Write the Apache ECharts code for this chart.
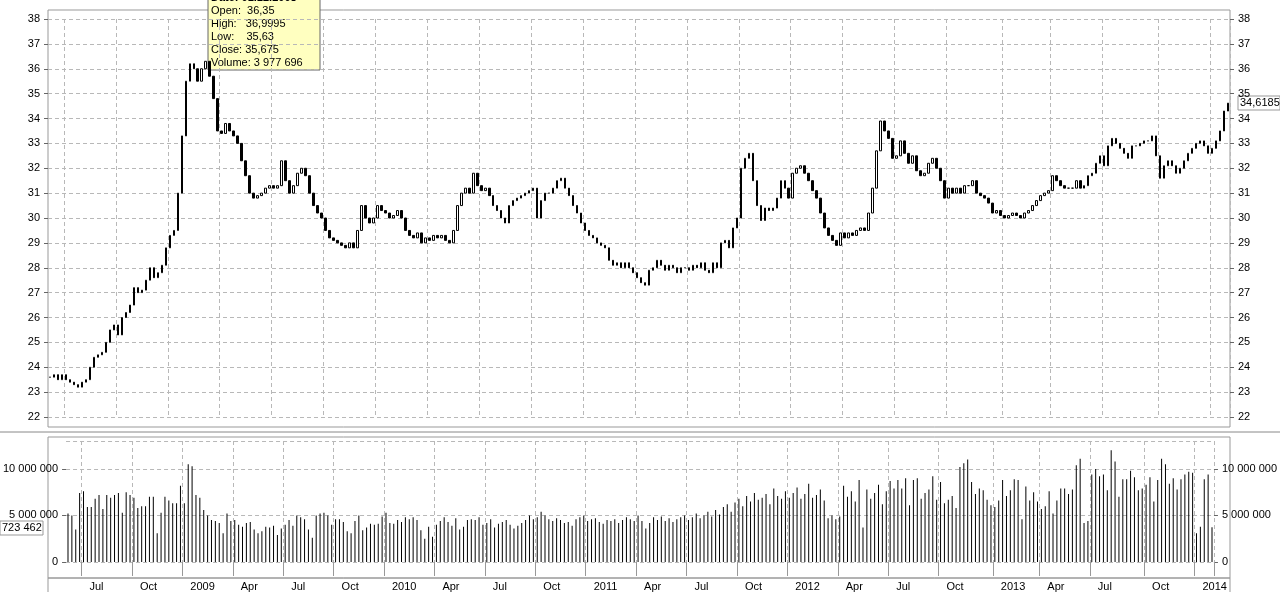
<!DOCTYPE html>
<html>
<head>
<meta charset="utf-8">
<script src="https://cdn.jsdelivr.net/npm/echarts@6/dist/echarts.min.js"></script>
<style>html,body{margin:0;padding:0;background:#fff}#container{width:1280px;height:592px}</style>
</head>
<body>
<div id="container"></div>
<script>
// weekly closes, mid 2008 .. Jan 2014
var closes = [
 23.6,23.7,23.5,23.7,23.5,23.4,23.3,23.2,23.4,23.5,
 24.0,24.4,24.5,24.6,25.0,25.5,25.7,25.3,26.0,26.2,26.5,27.2,27.0,27.1,27.5,28.0,27.6,27.8,28.1,28.8,29.3,29.5,
 31.0,33.3,35.5,36.2, 36.0,35.5,36.0,36.3,35.7, 34.8,33.5,33.4,33.8,33.5,
 33.3,33.0,32.3,31.7,31.0,30.8,30.9, 31.0,31.2,31.3,31.2,31.3,
 32.3,31.5,31.0,31.3,31.8,32.0,31.7, 31.0,30.5,30.2,30.0,29.5,29.2,29.1,
 29.0,28.9,28.8,29.0,28.8, 29.5,30.5,30.0,29.8,30.0,30.5,30.3,30.2,30.0,30.1,
 30.3,30.0,29.5,29.3,29.2,29.4,29.0,29.2,29.1,29.3, 29.2,29.3,29.1,29.0,
 29.5,30.5,31.0,31.2,31.0,31.8,31.3, 31.1,31.2,30.9,30.5,30.3,30.0,29.8,
 30.5,30.7,30.8,30.9,31.0,31.1,31.2, 30.0,30.7,31.0,31.0,31.2,31.5,31.6,
 31.2,30.9,30.5,30.2,29.8,29.5,29.3,29.2,29.0,28.9, 28.8,28.3,28.1,28.2,28.0,28.2,28.0,27.8,27.6,27.4,
 27.3,27.9,28.0,28.3,28.1,27.9,28.1,28.0,27.8,28.0, 28.0,27.9,28.1,28.0,
 28.2,27.9,27.8,28.2,28.0, 29.0,29.1,28.8,29.6,30.0, 32.0,32.4,32.6,31.5,30.5, 29.9,30.4,30.3,30.4,30.8,
 31.5,31.2,30.8,31.8,32.0,32.1,31.8,31.5,31.1,30.8, 30.2,29.6,29.3,29.1,28.9,29.4,29.2, 29.4,29.3,29.5,29.6,29.5,
 30.2,31.2,32.7,33.9,33.5, 33.2,32.4,32.5,33.1,32.6,32.2,32.5, 31.9,31.7,31.8,32.2,32.4,32.0,31.5,
 30.8,31.2,31.0,31.2,31.0,31.3,31.3,31.5, 31.0,30.9,30.8,30.6,30.2,30.3,30.1,30.0,30.1,30.2, 30.1,30.0,30.2,
 30.3,30.5,30.7,30.9,31.0,31.1,31.7,31.5,31.3,31.2, 31.2,31.2,31.5,31.2,31.3,31.7,31.8,
 32.2,32.5,32.1,32.9,33.2,33.0,32.8, 32.6,32.4,32.9,32.9,33.0,33.1,33.1,33.3,
 32.5,31.6,32.1,32.3,32.1,31.8,32.0,32.3, 32.6,32.8,33.0,33.1,32.9,32.6,32.8, 33.1,33.5,34.3,34.6185
];
// weekly volume, millions
var volumes = [
 5.2,5.0,3.5,7.4,7.6,5.9,5.9,6.8,7.2,5.7,7.2,6.9,7.2,7.4,5.3,7.5,7.2,6.9,5.8,6.0,6.0,7.0,7.0,3.1,5.3,7.0,6.6,6.3,6.3,8.2,6.3,10.5,10.3,7.2,6.9,5.6,
 5.0,4.5,4.4,4.2,3.1,5.2,4.4,4.5,4.0,3.8,4.2,4.3,3.5,3.1,3.3,3.8,3.7,3.9,2.9,3.6,4.0,4.5,3.9,5.0,4.8,4.6,3.5,2.6,5.0,5.2,5.3,5.0,4.0,4.6,4.6,4.3,3.3,3.1,4.4,5.0,3.4,3.7,4.1,4.0,4.1,4.9,5.3,4.2,4.1,4.5,4.3,4.8,
 4.6,4.8,4.5,3.4,2.5,3.8,2.7,4.0,4.4,4.8,4.3,3.9,4.7,3.5,3.8,4.5,4.6,4.5,4.8,4.0,4.2,4.6,3.7,4.1,4.3,4.5,4.0,3.6,3.9,4.2,4.5,5.0,4.6,4.8,5.4,5.0,4.6,4.4,4.7,4.5,4.2,4.3,3.9,4.6,4.8,5.0,4.4,4.6,4.7,4.3,4.1,4.5,4.4,4.6,4.2,4.5,
 4.8,4.6,4.4,5.0,4.4,3.6,4.2,4.8,4.5,4.9,4.4,4.7,4.3,4.6,4.8,5.0,4.5,4.8,5.2,4.7,5.0,5.4,4.9,5.6,5.1,5.9,6.2,5.4,6.4,6.8,6.0,7.1,6.5,7.4,6.7,6.9,7.3,6.2,7.9,7.1,6.8,7.6,6.9,7.4,8.0,6.8,7.3,8.4,6.9,7.2,7.8,6.6,4.7,5.0,4.6,4.9,
 8.2,7.0,7.6,6.5,8.8,3.7,7.8,6.8,7.4,8.3,6.2,7.6,8.7,7.9,8.8,7.9,9.0,6.1,8.8,9.0,6.8,7.4,7.8,9.2,6.7,8.6,6.3,6.7,7.1,5.8,10.2,10.6,11.0,8.6,7.3,7.9,7.7,6.7,6.1,5.9,6.6,8.8,7.1,7.7,8.9,8.8,4.6,8.1,6.6,7.5,6.5,5.7,
 6.0,7.6,5.2,6.6,7.9,7.9,7.3,7.8,10.4,11.1,4.2,4.4,9.4,10.0,9.2,9.4,7.7,12.0,10.8,7.0,8.9,8.9,9.8,9.1,7.7,7.9,8.3,9.1,6.5,8.8,11.1,10.5,8.4,9.0,7.8,
 8.9,9.4,9.7,9.6,3.1,3.8,8.9,9.4,3.723462
];
var startDate = new Date(2008, 5, 9, 12);
var monthNames = ['Jan','Feb','Mar','Apr','May','Jun','Jul','Aug','Sep','Oct','Nov','Dec'];

var n = Math.min(closes.length, volumes.length);
var dates = [], candles = [], vols = [];
for (var i = 0; i < n; i++) {
  var d = new Date(startDate.getTime() + i * 7 * 86400000);
  dates.push(d.getFullYear() + '-' + (d.getMonth() + 1) + '-' + d.getDate());
  var o = i > 0 ? closes[i - 1] : closes[0];
  var c = closes[i];
  candles.push([o, c, Math.min(o, c), Math.max(o, c)]);
  vols.push(Math.round(volumes[i] * 1000000));
}
// first week of each quarter
var quarterStart = {};
for (var i = 1; i < n; i++) {
  var m0 = +dates[i - 1].split('-')[1], m1 = +dates[i].split('-')[1];
  if (m0 !== m1 && (m1 - 1) % 3 === 0) quarterStart[dates[i]] = true;
}
function qInt(idx, val) { return !!quarterStart[val]; }
function fmtNum(v) { return String(v).replace(/\B(?=(\d{3})+(?!\d))/g, ' '); }

var myChart = echarts.init(document.getElementById('container'));
var font = 'Liberation Sans, Arial, sans-serif';
var gridLine = { show: true, lineStyle: { color: '#b8b8b8', type: [4, 3] } };
var vSplit = { show: true, interval: qInt, lineStyle: { color: '#b8b8b8', type: [4, 3] } };

option = {
  animation: false,
  textStyle: { fontFamily: font },
  grid: [
    { left: 48, right: 50, top: 19, height: 398 },
    { left: 48, right: 50, top: 441, bottom: 30 }
  ],
  xAxis: [
    { type: 'category', gridIndex: 0, data: dates, boundaryGap: true,
      axisLine: { show: false }, axisTick: { show: false }, axisLabel: { show: false },
      splitLine: vSplit },
    { type: 'category', gridIndex: 1, data: dates, boundaryGap: true, offset: 16,
      axisLine: { show: false },
      axisTick: { show: true, interval: qInt, length: 14, lineStyle: { color: '#999' } },
      axisLabel: { interval: qInt, align: 'left', margin: 3, padding: [0, 0, 0, 6], color: '#000', fontSize: 11,
        formatter: function (v) { var p = v.split('-'); return p[1] === '1' ? p[0] : monthNames[+p[1] - 1]; } },
      splitLine: vSplit }
  ],
  yAxis: [
    { type: 'value', gridIndex: 0, position: 'right', min: 22, max: 38, interval: 1,
      axisLine: { show: false }, axisTick: { show: true, length: 4, lineStyle: { color: '#666' } },
      axisLabel: { color: '#000', fontSize: 11, margin: 8 }, splitLine: gridLine },
    { type: 'value', gridIndex: 0, position: 'left', min: 22, max: 38, interval: 1,
      axisLine: { show: false }, axisTick: { show: true, length: 4, lineStyle: { color: '#666' } },
      axisLabel: { color: '#000', fontSize: 11, margin: 8 }, splitLine: { show: false } },
    { type: 'value', gridIndex: 1, position: 'right', min: 0, max: 13000000, interval: 5000000,
      axisLine: { show: false }, axisTick: { show: true, length: 4, lineStyle: { color: '#666' } },
      axisLabel: { color: '#000', fontSize: 11, margin: 8, showMaxLabel: false, formatter: fmtNum }, splitLine: gridLine },
    { type: 'value', gridIndex: 1, position: 'left', min: 0, max: 13000000, interval: 5000000,
      axisLine: { show: false }, axisTick: { show: true, length: 4, lineStyle: { color: '#666' } },
      axisLabel: { color: '#000', fontSize: 11, margin: 8, showMaxLabel: false, formatter: fmtNum }, splitLine: { show: false } }
  ],
  series: [
    { type: 'candlestick', xAxisIndex: 0, yAxisIndex: 0, data: candles, barWidth: 2,
      itemStyle: { color: '#fff', color0: '#000', borderColor: '#000', borderColor0: '#000', borderWidth: 1 } },
    { type: 'bar', xAxisIndex: 1, yAxisIndex: 2, data: vols, barWidth: 1,
      itemStyle: { color: '#000' } }
  ],
  graphic: [
    { type: 'rect', shape: { x: 48, y: 10, width: 1182, height: 417 }, style: { fill: 'none', stroke: '#999' }, silent: true },
    { type: 'rect', shape: { x: 48, y: 437, width: 1182, height: 141 }, style: { fill: 'none', stroke: '#999' }, silent: true },
    { type: 'rect', shape: { x: 48, y: 578, width: 1182, height: 16 }, style: { fill: 'none', stroke: '#999' }, silent: true },
    { type: 'line', shape: { x1: 0, y1: 432, x2: 1280, y2: 432 }, style: { stroke: '#888' }, silent: true },
    { type: 'rect', shape: { x: 1238, y: 96, width: 42, height: 14 }, style: { fill: '#fff', stroke: '#999' } },
    { type: 'text', x: 1240, y: 97, style: { text: '34,6185', font: '11px ' + font, fill: '#000' } },
    { type: 'rect', shape: { x: 0, y: 521, width: 43, height: 14 }, style: { fill: '#fff', stroke: '#999' } },
    { type: 'text', x: 2, y: 522, style: { text: '723 462', font: '11px ' + font, fill: '#000' } },
    { type: 'rect', shape: { x: 208, y: -6, width: 112, height: 76 }, style: { fill: '#ffffc0', stroke: '#666' } },
    { type: 'text', x: 211, y: -8, style: { text: 'Date: 01.12.2008', font: 'bold 11px ' + font, fill: '#000' } },
    { type: 'text', x: 211, y: 4, style: { text: 'Open:  36,35\nHigh:   36,9995\nLow:    35,63\nClose: 35,675\nVolume: 3 977 696', font: '11px ' + font, lineHeight: 13, fill: '#000' } }
  ]
};
myChart.setOption(option);
</script>
</body>
</html>
